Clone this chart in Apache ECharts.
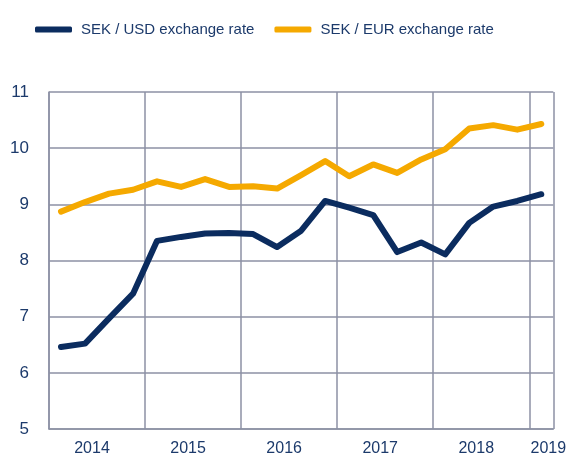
<!DOCTYPE html>
<html>
<head>
<meta charset="utf-8">
<script src="https://cdn.jsdelivr.net/npm/echarts@6/dist/echarts.min.js"></script>
<style>
  html, body { margin: 0; padding: 0; background: #fff; }
  #main { width: 569px; height: 460px; }
</style>
</head>
<body>
<div id="main"></div>
<script>
// quarterly observations, 2014 Q1 .. 2019 Q1
const categories = [
  '2014Q1', '2014Q2', '2014Q3', '2014Q4',
  '2015Q1', '2015Q2', '2015Q3', '2015Q4',
  '2016Q1', '2016Q2', '2016Q3', '2016Q4',
  '2017Q1', '2017Q2', '2017Q3', '2017Q4',
  '2018Q1', '2018Q2', '2018Q3', '2018Q4',
  '2019Q1'
]
const usdRate = [
  6.46, 6.52, 6.97, 7.41,
  8.35, 8.42, 8.48, 8.49,
  8.47, 8.24, 8.53, 9.06,
  8.94, 8.81, 8.15, 8.32,
  8.11, 8.67, 8.96, 9.06,
  9.18
]
const eurRate = [
  8.87, 9.04, 9.19, 9.26,
  9.41, 9.31, 9.45, 9.31,
  9.32, 9.28, 9.52, 9.77,
  9.50, 9.71, 9.56, 9.80,
  9.98, 10.35, 10.41, 10.33,
  10.43
]
// category index -> year label shown on the axis
const yearLabels = { 1: '2014', 5: '2015', 9: '2016', 13: '2017', 17: '2018', 20: '2019' }

const navy = '#0b2c5f'
const orange = '#f5a900'
const gridGrey = '#8c91a4'
const textColor = '#1c3a6b'

const chartObj = echarts.init(document.getElementById('main'))

const option = {
  animation: false,
  textStyle: { fontFamily: 'Liberation Sans, Arial, sans-serif' },
  legend: {
    top: 17,
    left: 30,
    itemWidth: 37,
    itemHeight: 6,
    itemGap: 20,
    icon: 'roundRect',
    textStyle: { color: textColor, fontSize: 15, padding: [0, 0, 0, 4] },
    data: ['SEK / USD exchange rate', 'SEK / EUR exchange rate']
  },
  grid: {
    top: 92,
    left: 49,
    right: 12,
    bottom: 31,
    containLabel: false
  },
  xAxis: {
    type: 'category',
    boundaryGap: true,
    data: categories,
    axisTick: { show: false },
    axisLine: { lineStyle: { color: gridGrey, width: 1.5 } },
    axisLabel: {
      color: textColor,
      fontSize: 16,
      margin: 12,
      padding: [0, 0, 0, 14],
      interval: (index) => yearLabels[index] !== undefined,
      formatter: (value, index) => yearLabels[index] || ''
    },
    splitLine: {
      show: true,
      interval: (index) => index % 4 === 0,
      lineStyle: { color: gridGrey, width: 1.5 }
    }
  },
  yAxis: {
    type: 'value',
    min: 5,
    max: 11,
    interval: 1,
    axisTick: { show: false },
    axisLine: { show: true, lineStyle: { color: gridGrey, width: 1.5 } },
    axisLabel: { color: textColor, fontSize: 17, margin: 20 },
    splitLine: { lineStyle: { color: gridGrey, width: 1.5 } }
  },
  series: [
    {
      name: 'SEK / USD exchange rate',
      type: 'line',
      data: usdRate,
      symbol: 'none',
      color: navy,
      lineStyle: { color: navy, width: 6, cap: 'round', join: 'round' }
    },
    {
      name: 'SEK / EUR exchange rate',
      type: 'line',
      data: eurRate,
      symbol: 'none',
      color: orange,
      lineStyle: { color: orange, width: 6, cap: 'round', join: 'round' }
    }
  ]
}

chartObj.setOption(option, true)
</script>
</body>
</html>
